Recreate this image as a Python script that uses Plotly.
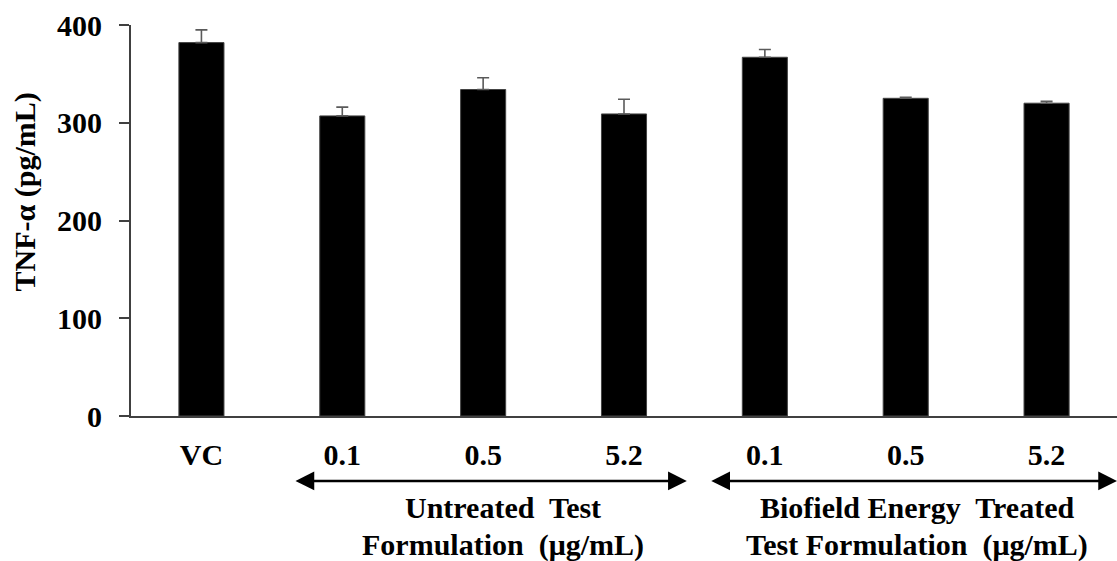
import plotly.graph_objects as go

categories = ["VC", "U0.1", "U0.5", "U5.2", "B0.1", "B0.5", "B5.2"]
tick_labels = ["VC", "0.1", "0.5", "5.2", "0.1", "0.5", "5.2"]
tnf_values = [382, 307, 334, 309, 367, 325, 320]
tnf_errors = [13, 9, 12, 15, 8, 1, 2]
y_ticks = [0, 100, 200, 300, 400]

FONT = "Liberation Serif"
FS = 30
xs = list(range(len(categories)))

fig = go.Figure()
fig.add_trace(go.Bar(
    x=xs, y=tnf_values, width=0.32,
    marker=dict(color="black", line=dict(color="#444444", width=1)),
    error_y=dict(type="data", symmetric=False, array=tnf_errors,
                 arrayminus=[0] * len(tnf_errors),
                 color="#5a5a5a", thickness=1.6, width=6),
    showlegend=False,
))

fig.update_layout(
    width=1117, height=561,
    margin=dict(l=131, r=0, t=25, b=145),
    plot_bgcolor="white", paper_bgcolor="white",
    font=dict(family=FONT, size=FS, color="black", weight="bold"),
    xaxis=dict(range=[-0.5, 6.5], tickmode="array", tickvals=xs, ticktext=tick_labels,
               showline=True, linecolor="#404040", linewidth=2, ticks="",
               showgrid=False, zeroline=False, ticklabelstandoff=11,
               tickfont=dict(family=FONT, size=FS, color="black", weight="bold")),
    yaxis=dict(range=[0, 400], tickmode="array", tickvals=y_ticks,
               showline=True, linecolor="#404040", linewidth=2,
               ticks="outside", ticklen=10, tickwidth=2, tickcolor="#404040",
               showgrid=False, zeroline=False, ticklabelstandoff=11,
               tickfont=dict(family=FONT, size=FS, color="black", weight="bold")),
)

# y-axis title
fig.add_annotation(text="TNF-α (pg/mL)", textangle=-90, xref="paper", yref="paper",
                   x=-0.108, y=0.573, showarrow=False, xanchor="center", yanchor="middle",
                   font=dict(family=FONT, size=FS, color="black", weight="bold"))

# double-headed arrows under the groups
arrow_y = -0.166
for x0, x1 in [(0.657, 3.446), (3.609, 6.5)]:
    fig.add_annotation(x=x1, y=arrow_y, ax=x0, ay=0, xref="x", yref="paper",
                       axref="x", ayref="pixel", text="", showarrow=True,
                       arrowside="end+start", arrowhead=2, arrowsize=1.5,
                       arrowwidth=2.5, arrowcolor="black")

group_lines = [
    (2.14, "Untreated  Test", "Formulation  (μg/mL)"),
    (5.08, "Biofield Energy  Treated", "Test Formulation  (μg/mL)"),
]
for gx, l1, l2 in group_lines:
    fig.add_annotation(text=l1, x=gx, y=-0.233, xref="x", yref="paper", showarrow=False,
                       xanchor="center", yanchor="middle",
                       font=dict(family=FONT, size=FS, color="black", weight="bold"))
    fig.add_annotation(text=l2, x=gx, y=-0.33, xref="x", yref="paper", showarrow=False,
                       xanchor="center", yanchor="middle",
                       font=dict(family=FONT, size=FS, color="black", weight="bold"))

fig.write_html("out.html")
